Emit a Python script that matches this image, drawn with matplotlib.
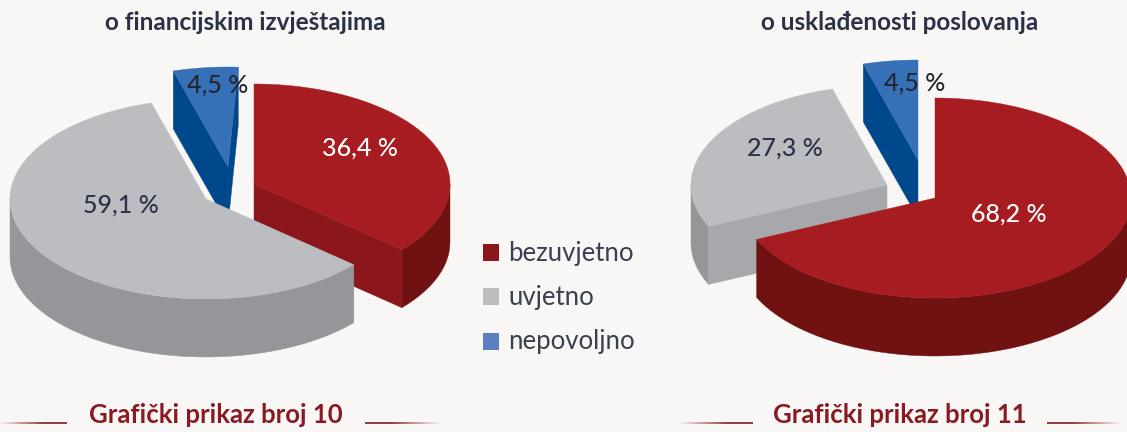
"""Two exploded pseudo-3D pies: audit opinions, charts 10 and 11."""
import matplotlib

matplotlib.use("Agg")
import matplotlib.pyplot as plt
import numpy as np
from matplotlib.collections import LineCollection
from matplotlib.colors import to_rgb
from matplotlib.patches import Polygon

categories = ["bezuvjetno", "uvjetno", "nepovoljno"]
values_10 = [36.4, 59.1, 4.5]
values_11 = [68.2, 27.3, 4.5]
title_10 = "o financijskim izvještajima"
title_11 = "o usklađenosti poslovanja"
caption_10 = "Grafički prikaz broj 10"
caption_11 = "Grafički prikaz broj 11"

BG = "#f8f7f5"
TOP = ["#a71c20", "#bcbdc0", "#3670b6"]
WALL = ["#701212", "#95969a", "#00488c"]
CUT = ["#8b161b", "#a7a8ab", "#00488c"]
LEGEND = ["#8b161b", "#bcbdc0", "#5a7fc1"]
LABEL = ["white", "#2b3147", "#23262e"]
DARK = "#2b3147"
CAPTION = "#8a1a22"

RX, RY, DEPTH = 196, 100, 58
FONT = "Lato"


def rim(apex, angles, drop=0):
    t = np.radians(angles)
    return np.column_stack([apex[0] + RX * np.sin(t), apex[1] - RY * np.cos(t) + drop])


def draw_slice(ax, apex, a0, a1, i):
    # outer wall, only the part that faces the viewer
    lo, hi = max(a0, 90), min(a1, 270)
    if hi > lo:
        a = np.linspace(lo, hi, 80)
        pts = np.vstack([rim(apex, a), rim(apex, a[::-1], DEPTH)])
        ax.add_patch(Polygon(pts, fc=WALL[i], ec=WALL[i], lw=0.3))
    # cut faces
    for ang, vis in ((a0, np.sin(np.radians(a0)) < -1e-6), (a1, np.sin(np.radians(a1)) > 1e-6)):
        if vis:
            p = rim(apex, [ang])[0]
            pts = [apex, p, (p[0], p[1] + DEPTH), (apex[0], apex[1] + DEPTH)]
            ax.add_patch(Polygon(pts, fc=CUT[i], ec=CUT[i], lw=0.3))
    a = np.linspace(a0, a1, 120)
    pts = np.vstack([[apex], rim(apex, a)])
    ax.add_patch(Polygon(pts, fc=TOP[i], ec=TOP[i], lw=0.3))


def draw_pie(ax, values, apexes, order, extra_sweep=0):
    edges = np.concatenate([[0], np.cumsum(values)]) * 3.6
    for i in order:
        a1 = edges[i + 1] + (extra_sweep if i == 2 else 0)
        draw_slice(ax, apexes[i], edges[i], a1, i)


def pct(v):
    return f"{v:.1f}".replace(".", ",") + " %"


def fade_line(ax, x0, x1, y=423, n=60):
    # x0 is the solid end, x1 the faded one
    xs = np.linspace(x0, x1, n + 1)
    segs = [[(xs[k], y), (xs[k + 1], y)] for k in range(n)]
    base = np.array(to_rgb(CAPTION))
    bg = np.array(to_rgb(BG))
    cols = []
    for k in range(n):
        f = max(0.0, (k / n - 0.35) / 0.65)
        cols.append(tuple(base * (1 - f) + bg * f))
    ax.add_collection(LineCollection(segs, colors=cols, linewidths=1.2))


fig = plt.figure(figsize=(11.27, 4.32), dpi=100, facecolor=BG)
ax = fig.add_axes([0, 0, 1, 1])
ax.set_xlim(0, 1127)
ax.set_ylim(432, 0)
ax.axis("off")

draw_pie(ax, values_10, [(254, 184), (206, 199), (228, 167)], [2, 0, 1], extra_sweep=3)
draw_pie(ax, values_11, [(935, 198), (887, 185), (918, 160)], [1, 2, 0])

label_pos_10 = [(360, 148), (121, 205), (218, 85)]
label_pos_11 = [(1009, 214), (785, 148), (915, 83)]
for vals, positions in ((values_10, label_pos_10), (values_11, label_pos_11)):
    for i, (v, (x, y)) in enumerate(zip(vals, positions)):
        ax.text(x, y, pct(v), color=LABEL[i], fontsize=18, family=FONT, weight="medium",
                ha="center", va="center")

ax.text(245.5, 23, title_10, color=DARK, fontsize=17.5, family=FONT, weight="bold", ha="center", va="center")
ax.text(899.5, 23, title_11, color=DARK, fontsize=17.5, family=FONT, weight="bold", ha="center", va="center")
ax.text(216, 415, caption_10, color=CAPTION, fontsize=18.5, family=FONT, weight="bold", ha="center", va="center")
ax.text(900, 415, caption_11, color=CAPTION, fontsize=18.5, family=FONT, weight="bold", ha="center", va="center")

fade_line(ax, 67, 0)
fade_line(ax, 365, 440)
fade_line(ax, 753, 680)
fade_line(ax, 1047, 1120)

for name, col, y in zip(categories, LEGEND, [253, 297, 342]):
    ax.add_patch(Polygon([(483, y - 9), (499, y - 9), (499, y + 8), (483, y + 8)], fc=col, ec="none"))
    ax.text(508, y, name, color="#3a3f52", fontsize=18.5, family=FONT, ha="left", va="center")

fig.savefig("out.png", dpi=100, facecolor=BG)
